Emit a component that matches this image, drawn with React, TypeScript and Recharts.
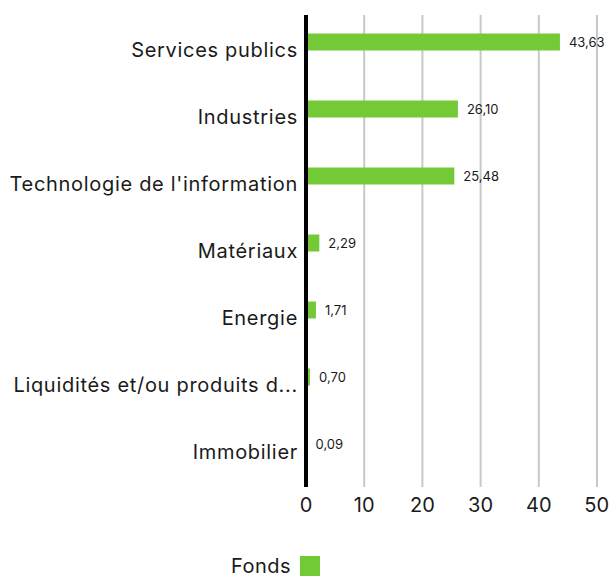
import React from 'react';
import {
  BarChart,
  Bar,
  XAxis,
  YAxis,
  CartesianGrid,
  Legend,
  LabelList,
} from 'recharts';

const sectors = [
  'Services publics',
  'Industries',
  "Technologie de l'information",
  'Matériaux',
  'Energie',
  'Liquidités et/ou produits d...',
  'Immobilier',
];
const fondsValues = [43.63, 26.1, 25.48, 2.29, 1.71, 0.7, 0.09];
const xTicks = [0, 10, 20, 30, 40, 50];

const FONT = 'Inter, "Noto Sans", sans-serif';
const GREEN = '#74C937';

const data = sectors.map((name, i) => ({ name, fonds: fondsValues[i] }));

const SectorTick = (props: any) => {
  const { x, y, payload } = props;
  return (
    <text
      x={x}
      y={y}
      dy={15}
      textAnchor="end"
      fontSize={20}
      letterSpacing={0.7}
      fill="#1a1a1a"
      fontFamily={FONT}
    >
      {payload.value}
    </text>
  );
};

const FondsLegend = () => (
  <div
    style={{
      height: 50,
      display: 'flex',
      alignItems: 'flex-end',
      paddingLeft: 231,
      fontFamily: FONT,
      boxSizing: 'border-box',
      paddingBottom: 1,
    }}
  >
    <span
      style={{ fontSize: 20, color: '#1a1a1a', lineHeight: '20px', marginRight: 9, letterSpacing: 0.5 }}
    >
      Fonds
    </span>
    <span style={{ width: 20, height: 20, background: GREEN, display: 'inline-block' }} />
  </div>
);

export default function App() {
  return (
    <div style={{ position: 'absolute', left: 0, top: 0, background: '#fff' }}>
      <BarChart
        width={609}
        height={577}
        data={data}
        layout="vertical"
        margin={{ top: 15, right: 12, bottom: 0, left: 0 }}
        barSize={17}
      >
        <CartesianGrid horizontal={false} stroke="#c8c8c8" strokeWidth={2} />
        <XAxis
          type="number"
          domain={[0, 50]}
          ticks={xTicks}
          axisLine={false}
          tickLine={false}
          tickSize={0}
          tickMargin={11}
          height={40}
          tick={{ fontSize: 20, fill: '#1a1a1a', fontFamily: FONT }}
        />
        <YAxis
          type="category"
          dataKey="name"
          width={306}
          axisLine={{ stroke: '#000', strokeWidth: 4 }}
          tickLine={false}
          tickSize={0}
          tickMargin={8}
          padding={{ top: -6.5, bottom: 9.5 }}
          tick={<SectorTick />}
          interval={0}
        />
        <Legend verticalAlign="bottom" align="left" content={<FondsLegend />} />
        <Bar dataKey="fonds" name="Fonds" fill={GREEN} isAnimationActive={false}>
          <LabelList
            dataKey="fonds"
            position="right"
            offset={9}
            formatter={(v: number) => v.toFixed(2).replace('.', ',')}
            style={{ fontSize: 13, fill: '#1a1a1a', fontFamily: FONT }}
          />
        </Bar>
      </BarChart>
    </div>
  );
}
